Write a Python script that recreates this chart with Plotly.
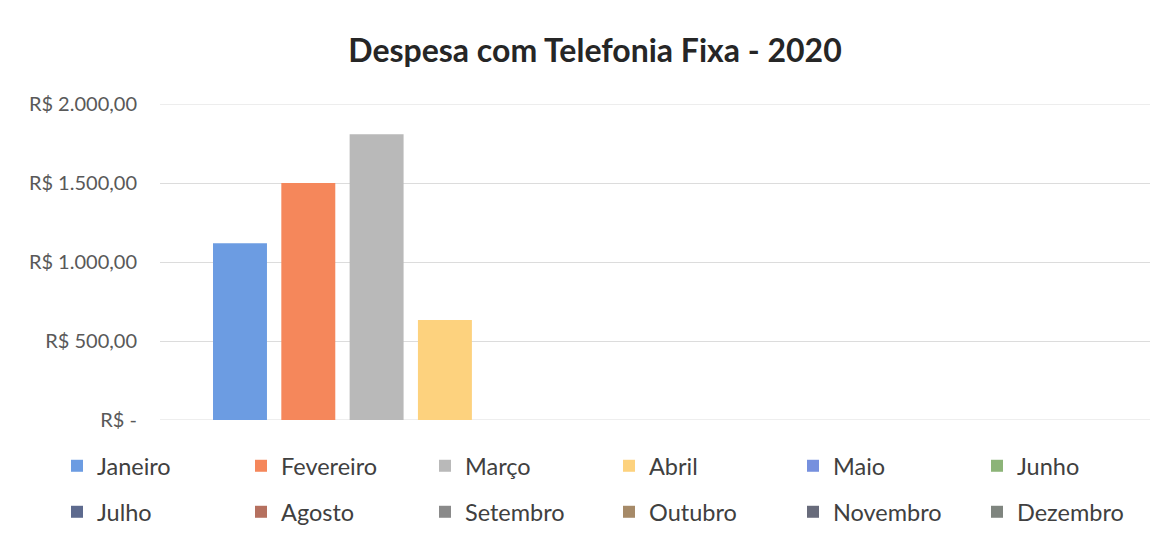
import plotly.graph_objects as go

title = "Despesa com Telefonia Fixa - 2020"
months = ["Janeiro", "Fevereiro", "Março", "Abril", "Maio", "Junho",
          "Julho", "Agosto", "Setembro", "Outubro", "Novembro", "Dezembro"]
values = [1118, 1500, 1808, 633, None, None, None, None, None, None, None, None]
colors = ["#6C9CE2", "#F5875B", "#B9B9B9", "#FDD27E", "#7690DE", "#8CB478",
          "#5D6A8E", "#B5705F", "#8A8A8A", "#A68A68", "#686B7B", "#7F857F"]
tick_vals = [0, 500, 1000, 1500, 2000]
tick_text = ["R$ -", "R$ 500,00", "R$ 1.000,00", "R$ 1.500,00", "R$ 2.000,00"]

FONT = "Lato"
# The page body has an 8px margin, so the figure is laid out 8px smaller.
W, H = 1162, 534
L, R, T, B = 152, 20, 96, 122
PW, PH = W - L - R, H - T - B

fig = go.Figure()
for i, (m, v, c) in enumerate(zip(months, values, colors)):
    fig.add_trace(go.Bar(
        x=[0], y=[v], name=m, marker=dict(color=c, line=dict(width=0)),
        legend="legend" if i < 6 else "legend2",
    ))

legend_common = dict(
    orientation="h", xref="paper", yref="paper",
    x=(49 - L) / PW, xanchor="left", yanchor="middle",
    entrywidth=139, entrywidthmode="pixels",
    font=dict(family=FONT, size=23.5, color="#404040"),
    bgcolor="rgba(0,0,0,0)", itemclick=False,
)

fig.update_layout(
    width=W, height=H,
    paper_bgcolor="white", plot_bgcolor="white",
    margin=dict(l=L, r=R, t=T, b=B, autoexpand=False),
    barmode="group", bargap=0.172, bargroupgap=0.21,
    title=dict(text=title, x=587 / W, xanchor="center", xref="container",
               y=1 - 43 / H, yanchor="middle", yref="container",
               font=dict(family=FONT, size=32, color="#262626", weight="bold")),
    xaxis=dict(range=[-0.4603, 0.5397], showticklabels=False, showgrid=False,
               zeroline=False, showline=False, ticks=""),
    yaxis=dict(range=[0, 2000], tickvals=tick_vals, ticktext=tick_text,
               showgrid=True, gridcolor="#DCDCDC", gridwidth=1,
               zeroline=False, showline=False, ticks="", ticklabelstandoff=22,
               tickfont=dict(family=FONT, size=20, color="#595959")),
    legend=dict(legend_common, y=(T + PH - 458) / PH),
    legend2=dict(legend_common, y=(T + PH - 504) / PH),
    showlegend=True,
)
# gridlines at the range edges
for yv in (tick_vals[0], tick_vals[-1]):
    fig.add_shape(type="line", xref="paper", yref="y", x0=0, x1=1, y0=yv, y1=yv,
                  line=dict(color="#DCDCDC", width=1), layer="below")

fig.write_html("out.html")
